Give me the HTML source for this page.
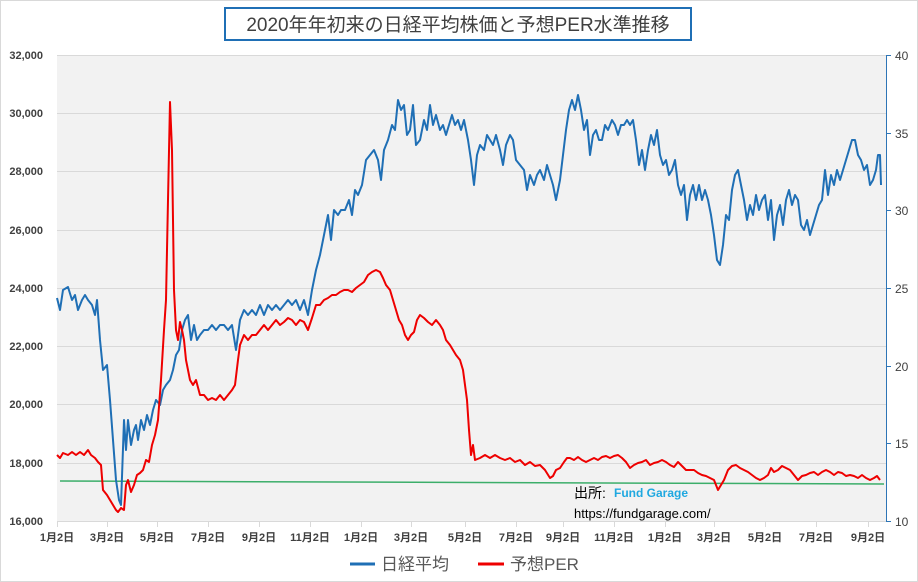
<!DOCTYPE html>
<html><head><meta charset="utf-8"><style>
body{margin:0;background:#fff}
svg{display:block;font-family:"Liberation Sans","Noto Sans CJK JP",sans-serif}
</style></head><body>
<svg width="918" height="582" viewBox="0 0 918 582">
<rect x="0.5" y="0.5" width="917" height="581" fill="#fff" stroke="#d9d9d9"/>
<rect x="57" y="55" width="829" height="466" fill="#f2f2f2"/>
<g stroke="#d9d9d9" stroke-width="1">
<line x1="57" x2="886" y1="55.5" y2="55.5"/><line x1="57" x2="886" y1="113.5" y2="113.5"/>
<line x1="57" x2="886" y1="171.5" y2="171.5"/><line x1="57" x2="886" y1="230.5" y2="230.5"/>
<line x1="57" x2="886" y1="288.5" y2="288.5"/><line x1="57" x2="886" y1="346.5" y2="346.5"/>
<line x1="57" x2="886" y1="404.5" y2="404.5"/><line x1="57" x2="886" y1="463.5" y2="463.5"/>
<line x1="57" x2="886" y1="521.5" y2="521.5"/>
</g>
<g stroke="#d9d9d9"><line x1="57.5" x2="57.5" y1="521" y2="527"/><line x1="107.5" x2="107.5" y1="521" y2="527"/><line x1="157.5" x2="157.5" y1="521" y2="527"/><line x1="208.5" x2="208.5" y1="521" y2="527"/><line x1="259.5" x2="259.5" y1="521" y2="527"/><line x1="310.5" x2="310.5" y1="521" y2="527"/><line x1="361.5" x2="361.5" y1="521" y2="527"/><line x1="411.5" x2="411.5" y1="521" y2="527"/><line x1="465.5" x2="465.5" y1="521" y2="527"/><line x1="516.5" x2="516.5" y1="521" y2="527"/><line x1="563.5" x2="563.5" y1="521" y2="527"/><line x1="614.5" x2="614.5" y1="521" y2="527"/><line x1="665.5" x2="665.5" y1="521" y2="527"/><line x1="714.5" x2="714.5" y1="521" y2="527"/><line x1="765.5" x2="765.5" y1="521" y2="527"/><line x1="816.5" x2="816.5" y1="521" y2="527"/><line x1="868.5" x2="868.5" y1="521" y2="527"/></g>
<line x1="886.5" x2="886.5" y1="55" y2="521" stroke="#2e75b6"/>
<g stroke="#2e75b6"><line x1="886" x2="891" y1="55.5" y2="55.5"/><line x1="886" x2="891" y1="133.5" y2="133.5"/><line x1="886" x2="891" y1="210.5" y2="210.5"/><line x1="886" x2="891" y1="288.5" y2="288.5"/><line x1="886" x2="891" y1="366.5" y2="366.5"/><line x1="886" x2="891" y1="443.5" y2="443.5"/><line x1="886" x2="891" y1="521.5" y2="521.5"/></g>
<g font-size="11" fill="#404040" text-anchor="end" font-weight="bold">
<text x="43" y="59">32,000</text><text x="43" y="117">30,000</text><text x="43" y="175">28,000</text><text x="43" y="234">26,000</text><text x="43" y="292">24,000</text><text x="43" y="350">22,000</text><text x="43" y="408">20,000</text><text x="43" y="467">18,000</text><text x="43" y="525">16,000</text>
</g>
<g font-size="12" fill="#404040">
<text x="895" y="60">40</text><text x="895" y="138">35</text><text x="895" y="215">30</text><text x="895" y="293">25</text><text x="895" y="371">20</text><text x="895" y="448">15</text><text x="895" y="526">10</text>
</g>
<g font-size="11" fill="#404040" text-anchor="middle" font-weight="bold">
<text x="57" y="541">1月2日</text><text x="107" y="541">3月2日</text><text x="157" y="541">5月2日</text><text x="208" y="541">7月2日</text><text x="259" y="541">9月2日</text><text x="310" y="541">11月2日</text><text x="361" y="541">1月2日</text><text x="411" y="541">3月2日</text><text x="465" y="541">5月2日</text><text x="516" y="541">7月2日</text><text x="563" y="541">9月2日</text><text x="614" y="541">11月2日</text><text x="665" y="541">1月2日</text><text x="714" y="541">3月2日</text><text x="765" y="541">5月2日</text><text x="816" y="541">7月2日</text><text x="868" y="541">9月2日</text>
</g>
<line x1="60" y1="481" x2="884" y2="484" stroke="#3cae6a" stroke-width="1.5"/>
<polyline fill="none" stroke="#1f6fb5" stroke-width="2" stroke-linejoin="round" points="57,298 60,310 63,290 68,287 72,300 75,295 78,310 82,300 85,295 88,300 92,305 95,315 97,300 100,340 103,370 107,365 110,400 113,440 116,480 119,500 121,505 124,420 126,450 128,420 131,445 134,430 136,425 138,440 141,420 144,430 147,415 150,425 153,410 156,400 160,405 163,390 166,385 170,380 173,370 176,355 179,350 182,330 185,320 188,315 191,340 194,325 197,340 200,335 204,330 208,330 212,325 216,330 220,325 224,325 228,330 232,325 236,350 240,320 244,310 248,315 252,310 256,315 260,305 264,315 268,305 272,310 276,305 280,310 284,305 288,300 292,305 296,300 300,310 304,300 308,315 312,290 316,270 320,255 324,235 328,215 331,240 334,210 338,215 341,210 345,210 349,200 352,215 355,190 358,195 362,185 366,160 370,155 374,150 378,160 381,180 384,150 388,140 392,125 395,130 398,100 401,110 404,105 407,135 410,130 413,105 416,145 420,140 424,120 427,130 430,105 433,125 436,115 440,130 443,125 446,135 449,125 452,115 455,125 458,120 461,130 464,120 468,140 471,160 474,185 477,155 480,145 484,150 487,135 490,140 493,145 496,135 500,150 503,165 506,145 510,135 513,140 516,160 520,165 524,170 527,190 530,175 534,185 537,175 540,170 544,180 547,165 550,175 553,185 556,200 560,180 563,155 566,130 569,110 572,100 575,110 578,95 581,110 584,130 587,120 590,155 593,135 596,130 599,140 602,140 605,125 608,130 612,120 615,125 618,135 621,125 624,125 627,120 630,125 633,120 636,140 639,165 642,150 645,170 648,150 651,135 654,145 657,130 660,155 663,165 666,160 669,175 672,170 675,160 678,185 681,195 684,185 687,220 690,195 693,185 696,200 699,185 702,200 705,190 708,200 711,215 714,235 717,260 720,265 723,245 726,215 729,220 732,190 735,175 738,170 741,185 744,200 747,220 750,205 753,215 756,195 759,210 762,200 765,195 768,220 771,200 774,240 777,215 780,205 783,225 786,200 789,190 792,205 795,195 798,200 801,225 804,230 807,220 810,235 813,225 816,215 819,205 822,200 825,170 828,195 831,175 834,185 837,170 840,180 843,170 846,160 849,150 852,140 855,140 858,155 861,160 864,170 867,165 870,185 873,180 876,170 878,155 880,155 881,185"/>
<polyline fill="none" stroke="#ee0000" stroke-width="2" stroke-linejoin="round" points="57,455 60,458 63,453 68,455 72,452 76,455 80,452 84,455 88,450 91,455 95,458 98,462 101,465 103,490 107,495 110,500 113,505 116,510 118,512 121,508 124,510 126,485 128,480 131,492 134,485 137,475 140,473 143,470 146,460 149,462 152,445 155,435 158,420 161,380 164,330 166,300 168,200 170,102 172,150 174,290 176,330 178,340 180,322 182,330 184,340 186,360 188,370 190,380 193,385 196,380 200,395 204,395 208,400 212,398 216,400 220,395 224,400 228,395 232,390 235,385 238,360 240,345 244,335 248,340 252,335 256,335 260,330 264,325 268,330 272,325 276,320 280,325 284,322 288,318 292,320 296,325 300,320 304,322 308,330 312,318 316,305 320,305 324,300 328,298 332,295 336,295 340,292 344,290 348,290 352,292 356,288 360,285 364,282 368,275 372,272 376,270 380,272 383,278 386,285 390,290 393,300 396,310 399,320 402,325 405,335 408,340 411,335 414,332 417,320 420,315 424,318 428,322 432,325 436,320 440,325 443,330 446,340 450,345 453,350 456,355 460,360 463,370 465,385 467,400 469,430 471,455 473,445 475,460 480,458 485,455 490,458 495,455 500,458 505,460 510,458 515,462 520,460 525,465 530,462 535,466 540,465 545,470 550,478 553,476 556,470 560,468 564,462 567,458 570,458 574,460 578,457 582,460 586,462 590,460 594,458 598,460 602,457 606,456 610,458 614,456 618,455 622,458 626,462 630,468 634,465 638,463 642,462 646,460 650,465 654,463 658,462 662,460 666,462 670,465 674,467 678,462 682,466 686,470 690,470 694,470 698,473 702,475 706,476 710,478 714,480 718,490 721,485 724,480 728,470 732,466 736,465 740,468 744,470 748,472 752,475 756,478 760,480 764,478 768,475 771,468 774,472 778,470 782,466 786,468 790,470 794,475 798,480 802,476 806,475 810,473 814,472 818,475 822,472 826,470 830,472 834,475 838,472 842,473 846,476 850,475 854,476 858,478 862,475 866,478 870,480 874,478 877,476 880,480"/>
<text x="574" y="498" font-size="14" fill="#000">出所:</text>
<text x="614" y="497" font-size="12" font-weight="bold" fill="#1fa8e0">Fund Garage</text>
<text x="574" y="518" font-size="13" fill="#000">https://fundgarage.com/</text>
<rect x="225" y="8" width="466" height="32" fill="#fff" stroke="#1f6fb5" stroke-width="2"/>
<text x="458" y="31" font-size="19" fill="#404040" text-anchor="middle">2020年年初来の日経平均株価と予想PER水準推移</text>
<line x1="350" y1="564" x2="375" y2="564" stroke="#1f6fb5" stroke-width="3"/>
<text x="381" y="570" font-size="17" fill="#595959">日経平均</text>
<line x1="478" y1="564" x2="504" y2="564" stroke="#ee0000" stroke-width="3"/>
<text x="510" y="570" font-size="17" fill="#595959">予想PER</text>
</svg>
</body></html>
